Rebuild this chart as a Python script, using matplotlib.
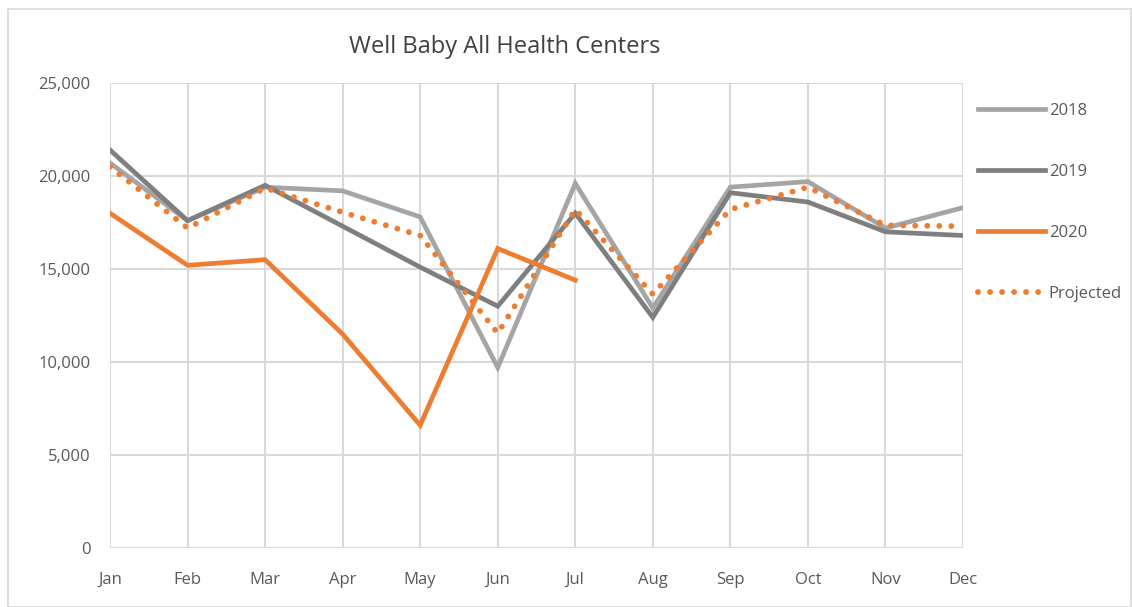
import matplotlib
matplotlib.use("Agg")
import matplotlib.pyplot as plt
from matplotlib.patches import Rectangle

months = ["Jan", "Feb", "Mar", "Apr", "May", "Jun", "Jul", "Aug", "Sep", "Oct", "Nov", "Dec"]
y2018 = [20700, 17600, 19400, 19200, 17800, 9700, 19600, 12900, 19400, 19700, 17200, 18300]
y2019 = [21400, 17600, 19500, 17300, 15100, 13000, 18000, 12400, 19100, 18600, 17000, 16800]
y2020 = [18000, 15200, 15500, 11500, 6600, 16100, 14400]
projected = [20500, 17200, 19350, 18050, 16800, 11550, 18200, 13650, 18200, 19400, 17350, 17300]
yticks = [0, 5000, 10000, 15000, 20000, 25000]
ytick_labels = ["0", "5,000", "10,000", "15,000", "20,000", "25,000"]

plt.rcParams['font.family'] = ['Open Sans', 'DejaVu Sans']

fig = plt.figure(figsize=(11.32, 6.07), dpi=100)
ax = fig.add_axes([110/1132, 1-548/607, (963-110)/1132, (548-83)/607])

x = list(range(len(months)))
ax.plot(x, y2018, color="#A5A5A5", lw=3.4, label="2018", solid_joinstyle="miter")
ax.plot(x, y2019, color="#7F7F7F", lw=3.4, label="2019", solid_joinstyle="miter")
ax.plot(x[:len(y2020)], y2020, color="#ED7D31", lw=3.4, label="2020", solid_joinstyle="miter")
ax.plot(x, projected, color="#ED7D31", lw=4.2, ls=(0, (0.01, 2.05)), dash_capstyle="round",
        label="Projected")

ax.set_xlim(0, 11)
ax.set_ylim(0, 25000)
ax.set_xticks(x)
ax.set_xticklabels(months)
ax.set_yticks(yticks)
ax.set_yticklabels(ytick_labels)
ax.grid(True, color="#D9D9D9", lw=1.5)
ax.set_axisbelow(True)
for s in ax.spines.values():
    s.set_visible(False)
ax.tick_params(length=0, labelsize=12, labelcolor="#595959")
ax.tick_params(axis='y', pad=14)
ax.tick_params(axis='x', pad=17)

fig.text(505/1132, 1-47/607, "Well Baby All Health Centers", fontsize=17, color="#404040",
         ha="center", va="center")

leg = ax.legend(loc="upper left", bbox_to_anchor=(1.0, 0.99), frameon=False,
                fontsize=12, labelcolor="#595959", handlelength=4.0,
                labelspacing=2.7, handletextpad=0.25)

fig.patches.append(Rectangle((8/1132, 0), 1 - 8/1132 - 1.5/1132, 1 - 9/607, transform=fig.transFigure,
                             fill=False, edgecolor="#D9D9D9", lw=1.2))

fig.savefig("out.png", dpi=100)
